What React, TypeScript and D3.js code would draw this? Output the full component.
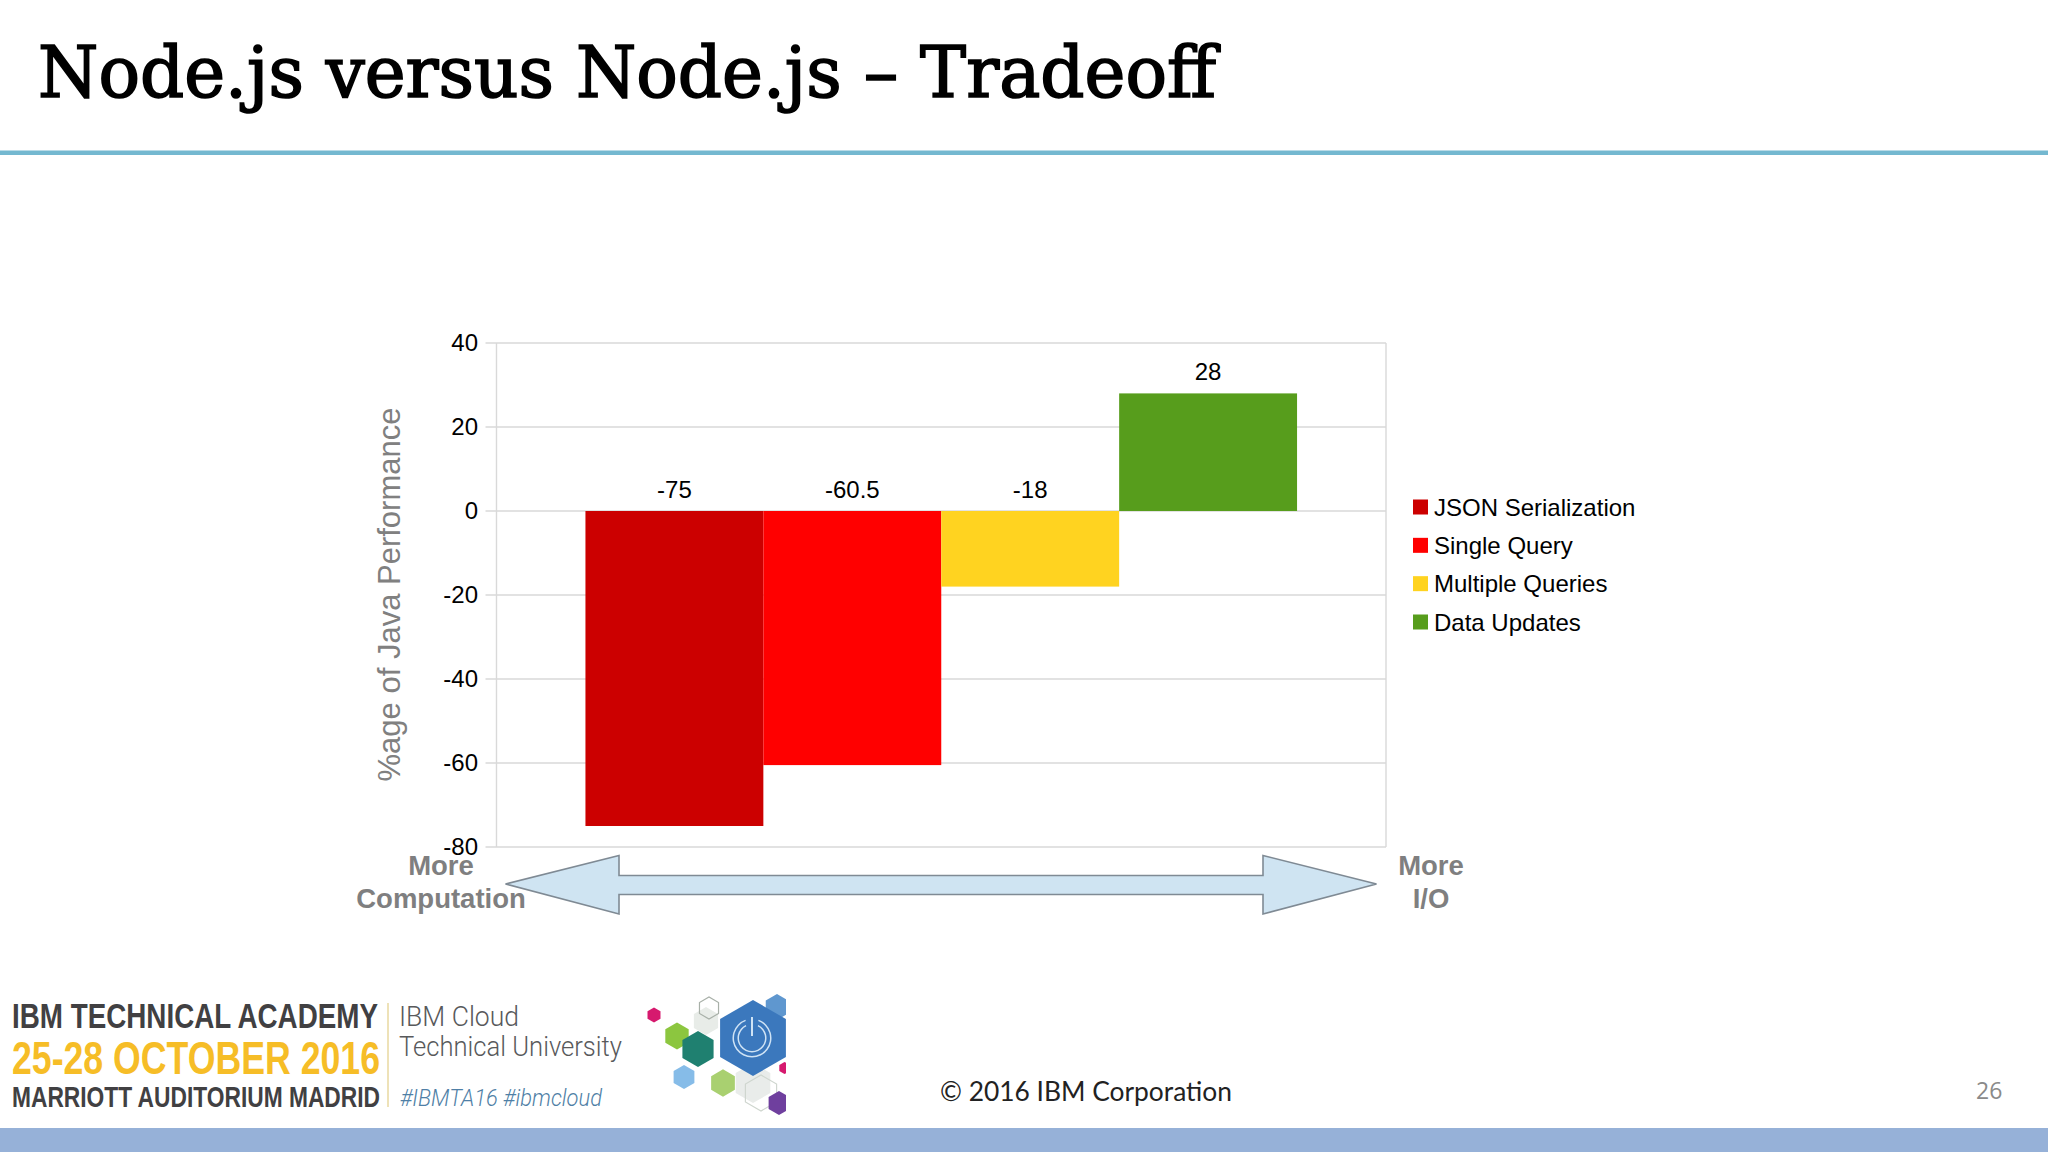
import React from "react";
import * as d3 from "d3";

const seriesNames = ["JSON Serialization", "Single Query", "Multiple Queries", "Data Updates"];
const seriesValues = [-75, -60.5, -18, 28];
const seriesColors = ["#cc0000", "#ff0000", "#ffd320", "#579d1c"];
const yDomain = [-80, 40];
const yTickValues = [-80, -60, -40, -20, 0, 20, 40];
const titleText = "Node.js versus Node.js – Tradeoff";
const yAxisTitle = "%age of Java Performance";
const leftEnd = ["More", "Computation"];
const rightEnd = ["More", "I/O"];
const logoLines = ["IBM TECHNICAL ACADEMY", "25-28 OCTOBER 2016", "MARRIOTT AUDITORIUM MADRID"];
const logoSide = ["IBM Cloud", "Technical University", "#IBMTA16 #ibmcloud"];
const hexes: [number, number, number, string, string][] = [
  [706, 1021, 14, "#e8ece8", "none"],
  [753, 1083, 20, "#e9ecea", "none"],
  [761, 1093, 18, "none", "#cfd6cf"],
  [709, 1008, 11, "none", "#a8b0a8"],
  [654, 1015, 7.5, "#d6196e", "none"],
  [677, 1036, 13.5, "#8cc63f", "none"],
  [698, 1049, 18, "#1f8070", "none"],
  [684, 1077, 12, "#86bce8", "none"],
  [723, 1083, 13.7, "#a9d070", "none"],
  [779, 1103, 12, "#6f3f9e", "none"],
  [777, 1007, 13, "#5f97cf", "none"],
  [784.5, 1068, 6, "#d6196e", "none"],
  [753, 1038, 38, "#3b78bd", "none"],
];

const W = 2048, H = 1152;
const plot = { left: 496.5, right: 1386, top: 343, bottom: 847 };
const sans = "'Liberation Sans', Arial, sans-serif";
const narrow = "'Liberation Sans Narrow', 'Liberation Sans', sans-serif";

const hexPath = (cx: number, cy: number, r: number) => {
  const pts: [number, number][] = d3.range(6).map((i) => {
    const a = Math.PI / 6 + (i * Math.PI) / 3;
    return [cx + r * Math.cos(a), cy + r * Math.sin(a)];
  });
  return d3.line()(pts) + "Z";
};

export default function App() {
  const y = d3.scaleLinear().domain(yDomain).range([plot.bottom, plot.top]);
  const pad = (plot.right - plot.left) * 0.1;
  const x = d3.scaleBand().domain(seriesNames).range([plot.left + pad, plot.right - pad]);
  const legendY = d3.scalePoint().domain(seriesNames).range([507, 622]);
  const arc = d3.arc();
  const arrow = d3.line()([
    [505.5, 884], [619, 855.5], [619, 875.5], [1263, 875.5], [1263, 855.5], [1376.5, 884],
    [1263, 914], [1263, 894.5], [619, 894.5], [619, 914],
  ]) + "Z";
  return (
    <svg width={W} height={H} viewBox={`0 0 ${W} ${H}`} style={{ position: "absolute", left: 0, top: 0, background: "#fff" }}>
      <defs>
        <clipPath id="logoClip"><rect x={630} y={990} width={156} height={130} /></clipPath>
      </defs>
      <text x={38} y={96.5} fontFamily="'DejaVu Serif', serif" fontSize={71} fill="#000" stroke="#000" strokeWidth={1.7}
        textLength={1178} lengthAdjust="spacingAndGlyphs">{titleText}</text>
      <rect x={0} y={150.5} width={W} height={4.5} fill="#74b8d0" />

      {yTickValues.map((t) => (
        <g key={t}>
          <line x1={485.5} x2={plot.right} y1={y(t)} y2={y(t)} stroke="#d9d9d9" strokeWidth={1.4} />
          <text x={478} y={y(t) + 8} textAnchor="end" fontFamily={sans} fontSize={24} fill="#000">{t}</text>
        </g>
      ))}
      <line x1={plot.left} x2={plot.left} y1={plot.top} y2={plot.bottom} stroke="#d9d9d9" strokeWidth={1.4} />
      <line x1={plot.right} x2={plot.right} y1={plot.top} y2={plot.bottom} stroke="#d9d9d9" strokeWidth={1.4} />

      {seriesNames.map((s, i) => {
        const v = seriesValues[i];
        return (
          <g key={s}>
            <rect x={x(s)} width={x.bandwidth()} y={y(Math.max(0, v))} height={Math.abs(y(v) - y(0))} fill={seriesColors[i]} />
            <text x={x(s)! + x.bandwidth() / 2} y={y(Math.max(0, v)) - 13} textAnchor="middle" fontFamily={sans} fontSize={24} fill="#000">{v}</text>
          </g>
        );
      })}

      <text transform={`translate(400,${(409 + 780) / 2}) rotate(-90)`} textAnchor="middle" fontFamily={sans} fontSize={31} fill="#808080">{yAxisTitle}</text>

      {seriesNames.map((s, i) => (
        <g key={s}>
          <rect x={1413} y={legendY(s)! - 7.5} width={15} height={15} fill={seriesColors[i]} />
          <text x={1434} y={legendY(s)! + 8.5} fontFamily={sans} fontSize={24} fill="#000">{s}</text>
        </g>
      ))}

      <path d={arrow} fill="#cfe4f2" stroke="#7f8a94" strokeWidth={1.6} />
      {leftEnd.map((t, i) => (
        <text key={t} x={441} y={875 + i * 33} textAnchor="middle" fontFamily={sans} fontWeight="bold" fontSize={27.5} fill="#7f7f80">{t}</text>
      ))}
      {rightEnd.map((t, i) => (
        <text key={t} x={1431} y={875 + i * 33} textAnchor="middle" fontFamily={sans} fontWeight="bold" fontSize={27.5} fill="#7f7f80">{t}</text>
      ))}

      <text x={12} y={1028} fontFamily={narrow} fontWeight="bold" fontSize={35} fill="#414042" textLength={366} lengthAdjust="spacingAndGlyphs">{logoLines[0]}</text>
      <text x={12} y={1074} fontFamily={narrow} fontWeight="bold" fontSize={46} fill="#f6bd27" textLength={368} lengthAdjust="spacingAndGlyphs">{logoLines[1]}</text>
      <text x={12} y={1107} fontFamily={narrow} fontWeight="bold" fontSize={30} fill="#414042" textLength={368} lengthAdjust="spacingAndGlyphs">{logoLines[2]}</text>
      <line x1={388} x2={388} y1={1003} y2={1107} stroke="#e8d9a0" strokeWidth={1.5} />
      <text x={399} y={1026} fontFamily="Roboto, sans-serif" fontWeight={300} fontSize={27} fill="#58595b" textLength={120} lengthAdjust="spacingAndGlyphs">{logoSide[0]}</text>
      <text x={399} y={1056} fontFamily="Roboto, sans-serif" fontWeight={300} fontSize={27} fill="#58595b" textLength={223} lengthAdjust="spacingAndGlyphs">{logoSide[1]}</text>
      <text x={400} y={1106} fontFamily="Roboto, sans-serif" fontWeight={300} fontStyle="italic" fontSize={23} fill="#4f7fa6" textLength={202} lengthAdjust="spacingAndGlyphs">{logoSide[2]}</text>

      <g clipPath="url(#logoClip)">
        {hexes.map(([cx, cy, r, f, s], i) => (
          <path key={i} d={hexPath(cx, cy, r)} fill={f} stroke={s} strokeWidth={1.2} />
        ))}
        <g transform="translate(752,1038)" fill="#cfe3f5">
          <path d={arc({ innerRadius: 18, outerRadius: 19.5, startAngle: 0.35, endAngle: 2 * Math.PI - 0.35 })!} />
          <path d={arc({ innerRadius: 13, outerRadius: 14.5, startAngle: 0.45, endAngle: 2 * Math.PI - 0.45 })!} />
          <rect x={-1} y={-21} width={2} height={19} />
        </g>
      </g>

      <text x={940} y={1101} fontFamily="Lato, sans-serif" fontSize={27} fill="#222" textLength={292} lengthAdjust="spacingAndGlyphs">© 2016 IBM Corporation</text>
      <text x={1976} y={1099} fontFamily="'Open Sans', sans-serif" fontSize={23} fill="#8a8a8a">26</text>

      <rect x={0} y={1128} width={W} height={24} fill="#96b1d8" />
    </svg>
  );
}
